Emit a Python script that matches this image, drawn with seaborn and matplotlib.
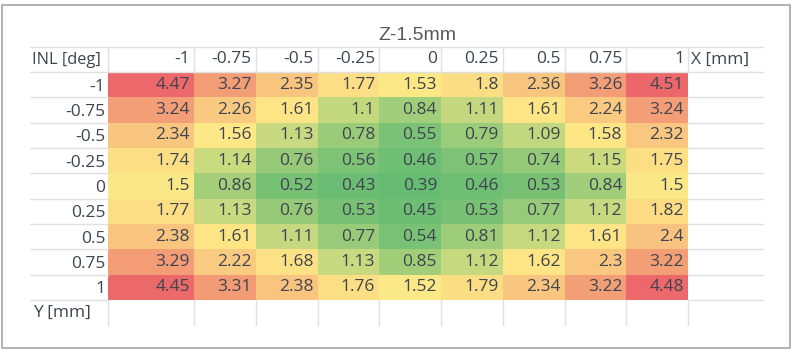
import numpy as np
import pandas as pd
import matplotlib
matplotlib.use("Agg")
import matplotlib.pyplot as plt
import seaborn as sns
from matplotlib.colors import LinearSegmentedColormap, TwoSlopeNorm
from matplotlib.lines import Line2D
from matplotlib.patches import Rectangle

# X [mm] across, Y [mm] down, values are INL [deg]
x_mm = ["-1", "-0.75", "-0.5", "-0.25", "0", "0.25", "0.5", "0.75", "1"]
y_mm = ["-1", "-0.75", "-0.5", "-0.25", "0", "0.25", "0.5", "0.75", "1"]
inl = [
    [4.47, 3.27, 2.35, 1.77, 1.53, 1.8, 2.36, 3.26, 4.51],
    [3.24, 2.26, 1.61, 1.1, 0.84, 1.11, 1.61, 2.24, 3.24],
    [2.34, 1.56, 1.13, 0.78, 0.55, 0.79, 1.09, 1.58, 2.32],
    [1.74, 1.14, 0.76, 0.56, 0.46, 0.57, 0.74, 1.15, 1.75],
    [1.5, 0.86, 0.52, 0.43, 0.39, 0.46, 0.53, 0.84, 1.5],
    [1.77, 1.13, 0.76, 0.53, 0.45, 0.53, 0.77, 1.12, 1.82],
    [2.38, 1.61, 1.11, 0.77, 0.54, 0.81, 1.12, 1.61, 2.4],
    [3.29, 2.22, 1.68, 1.13, 0.85, 1.12, 1.62, 2.3, 3.22],
    [4.45, 3.31, 2.38, 1.76, 1.52, 1.79, 2.34, 3.22, 4.48],
]
title = "Z-1.5mm"

df = pd.DataFrame(inl, index=y_mm, columns=x_mm)

sns.set_style("white")
plt.rcParams["font.family"] = ["Open Sans", "DejaVu Sans"]

# excel style 3 colour scale: green min, yellow at 50th percentile, red max
vals = df.values.ravel()
norm = TwoSlopeNorm(vmin=vals.min(), vcenter=np.percentile(vals, 50), vmax=vals.max())
cmap = LinearSegmentedColormap.from_list("excel", ["#66BC72", "#FDE986", "#EC676A"])

W, H = 796, 353
def fx(p):
    return p / W
def fy(p):
    return 1 - p / H

# sheet geometry in pixels
left, lab_r, c1_r, data_r, right = 30, 108, 194, 688, 763
title_b, top, bottom, yrow_b = 47, 72, 300, 325
row_h = (bottom - top) / len(y_mm)
col_w = (data_r - c1_r) / (len(x_mm) - 1)
txt = "#3F4450"
fs = 12.5

fig = plt.figure(figsize=(W / 100, H / 100), dpi=100)

ax1 = fig.add_axes([fx(lab_r), fy(bottom), fx(c1_r) - fx(lab_r), fy(top) - fy(bottom)])
ax2 = fig.add_axes([fx(c1_r), fy(bottom), fx(data_r) - fx(c1_r), fy(top) - fy(bottom)])

for ax, part, cw in [(ax1, df.iloc[:, :1], c1_r - lab_r), (ax2, df.iloc[:, 1:], col_w)]:
    sns.heatmap(part, ax=ax, cmap=cmap, norm=norm, cbar=False, annot=True, fmt="g",
                linewidths=0, xticklabels=False, yticklabels=False,
                annot_kws={"color": txt, "fontsize": fs, "ha": "right"})
    pad = 4 / cw
    for t in ax.texts:
        x, y = t.get_position()
        t.set_position((x + 0.5 - pad, y))
    # column headers, right aligned like excel numbers
    for j, lab in enumerate(part.columns):
        ax.text(j + 1 - pad, -0.5, lab, ha="right", va="center", color=txt,
                fontsize=fs, clip_on=False)

ax1.set_yticks(np.arange(len(y_mm)) + 0.5, labels=y_mm)
ax1.tick_params(axis="y", length=0, pad=2, labelsize=fs, labelcolor=txt)
ax1.set_xticks([])
ax2.set_yticks([])
ax2.set_xticks([])

fig.text(fx(32), fy((title_b + top) / 2), "INL [deg]", ha="left", va="center", color=txt, fontsize=11.8)
fig.text(fx(691), fy((title_b + top) / 2), "X [mm]", ha="left", va="center", color=txt, fontsize=fs)
fig.text(fx(33), fy((bottom + yrow_b) / 2), "Y [mm]", ha="left", va="center", color=txt, fontsize=fs)
fig.text(fx(417), fy(35), title, ha="center", va="center", color="#595959", fontsize=14,
         family="Liberation Sans")

# light sheet gridlines in the unfilled cells
gc = "#e0e0e0"
def hline(y, a, b):
    fig.add_artist(Line2D([fx(a), fx(b)], [fy(y), fy(y)], color=gc, lw=1, zorder=0.5))
def vline(x, a, b):
    fig.add_artist(Line2D([fx(x), fx(x)], [fy(a), fy(b)], color=gc, lw=1, zorder=0.5))

hline(title_b, left, right)
hline(top, left, right)
for k in range(1, len(y_mm) + 1):
    yy = top + k * row_h
    hline(yy, left, lab_r)
    hline(yy, data_r, right)
for xx in [lab_r] + [c1_r + j * col_w for j in range(len(x_mm))]:
    vline(xx, title_b, top)
    vline(xx, bottom, yrow_b)

fig.add_artist(Rectangle((fx(1.5), fy(347.5)), fx(789.5) - fx(1.5), fy(5) - fy(347.5),
                         fill=False, edgecolor="#a6a6a6", lw=1.2, zorder=0.5))

fig.savefig("out.png", dpi=100)
